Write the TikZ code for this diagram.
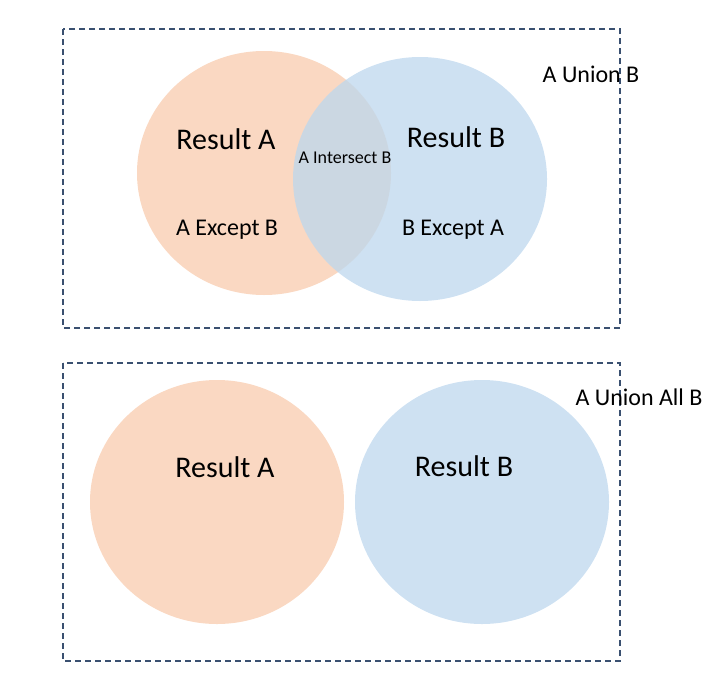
\documentclass[tikz,border=0pt]{standalone}
\usepackage{fontspec}
\setmainfont{Carlito}
\usetikzlibrary{shapes.geometric}
\definecolor{peach}{HTML}{F8CBAD}
\definecolor{sky}{HTML}{BDD7EE}
\definecolor{framecol}{HTML}{3A5070}
\begin{document}
\begin{tikzpicture}[x=1pt,y=-1pt]
\def\blobw{254pt}
\def\blobh{244pt}
\tikzset{frame/.style={draw=framecol,line width=1.5pt,dash pattern=on 6pt off 4pt},
blob/.style={ellipse,inner sep=0pt,minimum width=\blobw,minimum height=\blobh,fill opacity=0.75},
setA/.style={blob,fill=peach},setB/.style={blob,fill=sky},
txt/.style={inner sep=0pt,anchor=base},
big/.style={txt,font=\fontsize{30}{32}\selectfont},
mid/.style={txt,font=\fontsize{24}{28}\selectfont},
small/.style={txt,font=\fontsize{18}{21}\selectfont}}
\useasboundingbox (0,0) rectangle (719,680);
% A union B
\draw[frame] (63,29) rectangle (620,328);
\node[setA] (A1) at (264,173) {};
\node[setB] (B1) at (420,179) {};
\node[big] (resA1) at (226,149) {Result A};
\node[big] (resB1) at (456,147) {Result B};
\node[small] (AiB) at (345,163) {A Intersect B};
\node[mid] (AeB) at (227,235) {A Except B};
\node[mid] (BeA) at (453,235) {B Except A};
\node[mid] (AuB) at (591,82) {A Union B};
% A union all B
\draw[frame] (63,363) rectangle (620,661);
\node[setA] (A2) at (217,502) {};
\node[setB] (B2) at (482,502) {};
\node[big] (resA2) at (225,477) {Result A};
\node[big] (resB2) at (464,476) {Result B};
\node[mid] (AuaB) at (639,405) {A Union All B};
\end{tikzpicture}
\end{document}
